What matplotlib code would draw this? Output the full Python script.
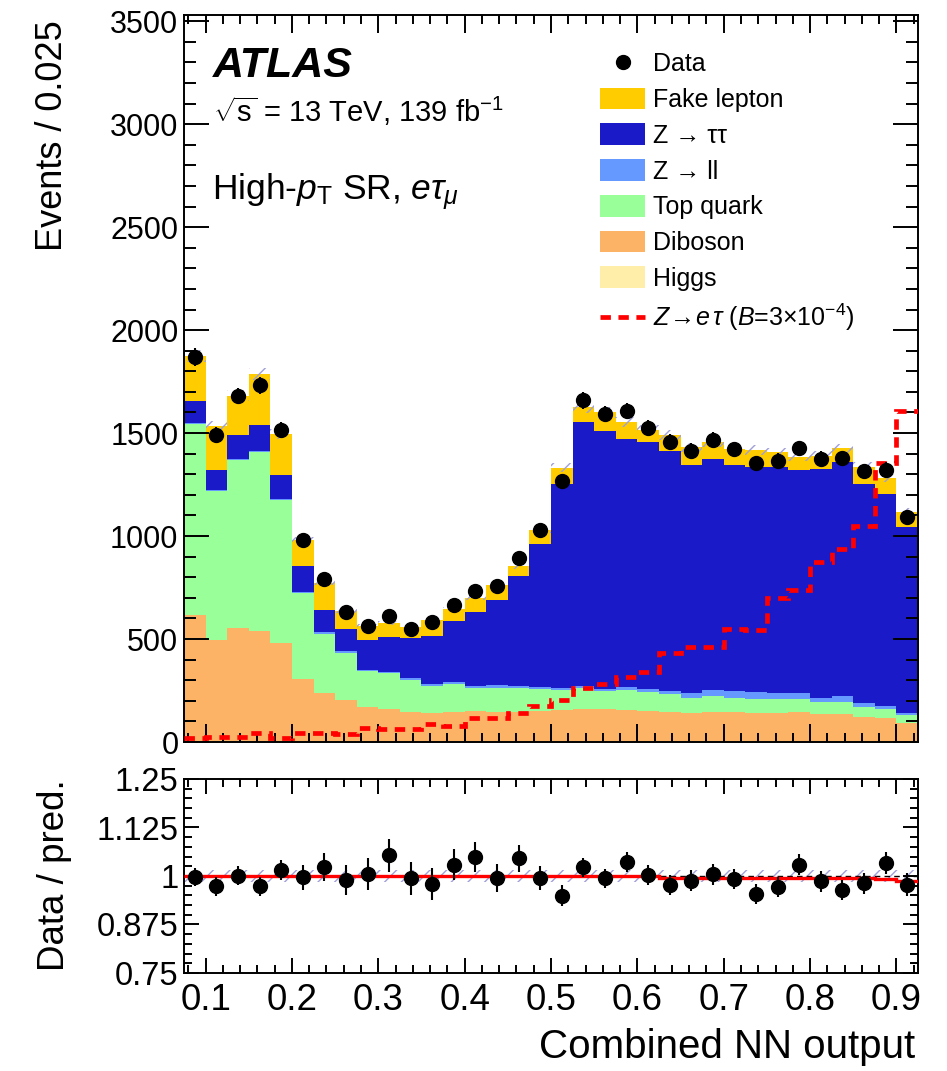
import numpy as np
import matplotlib
matplotlib.use("Agg")
import matplotlib.pyplot as plt
from matplotlib.patches import Patch
from matplotlib.lines import Line2D
from matplotlib.ticker import MultipleLocator, FixedLocator, FixedFormatter

plt.rcParams['font.family'] = ['Liberation Sans', 'DejaVu Sans']
plt.rcParams['mathtext.fontset'] = 'custom'
plt.rcParams['mathtext.rm'] = 'Liberation Sans'
plt.rcParams['mathtext.it'] = 'Liberation Sans:italic'
plt.rcParams['mathtext.bf'] = 'Liberation Sans:bold'
plt.rcParams['hatch.linewidth'] = 1.0

# bins of 0.025 in the NN output
edges = np.round(np.arange(0.075, 0.9251, 0.025), 3)
centers = 0.5 * (edges[1:] + edges[:-1])

# events per bin, bottom to top of the stack
higgs = [6, 6, 6, 6, 6, 6, 6, 6, 6, 6, 6, 6, 6, 6, 6, 6, 6,
         6, 6, 6, 6, 6, 6, 6, 6, 6, 6, 6, 6, 6, 6, 6, 6, 6]
diboson = [609, 491, 548, 532, 475, 299, 233, 197, 162, 154, 141, 136, 141, 146, 141, 141, 144,
           149, 152, 152, 149, 146, 141, 136, 141, 138, 136, 133, 141, 128, 128, 117, 109, 88]
top_quark = [929, 721, 815, 869, 695, 419, 287, 230, 178, 173, 153, 129, 134, 108, 116, 113, 105,
             97, 102, 89, 97, 92, 84, 74, 77, 72, 66, 69, 64, 61, 58, 48, 43, 37]
z_ll = [6, 7, 6, 5, 4, 6, 6, 7, 6, 9, 10, 10, 9, 10, 13, 11, 10,
        10, 11, 8, 16, 11, 18, 23, 28, 31, 36, 31, 28, 17, 31, 16, 16, 8]
z_tautau = [107, 96, 117, 127, 115, 126, 111, 111, 145, 168, 195, 233, 296, 361, 415, 535, 697,
            991, 1281, 1257, 1203, 1200, 1166, 1108, 1122, 1098, 1090, 1095, 1082, 1114, 1135, 1066, 1031, 904]
fake = [218, 215, 189, 247, 200, 126, 131, 84, 65, 68, 51, 80, 59, 69, 69, 48, 68,
        78, 73, 88, 81, 61, 76, 83, 84, 78, 84, 73, 65, 65, 68, 84, 76, 73]

data = [1870, 1492, 1680, 1733, 1516, 982, 793, 631, 564, 612, 551, 581, 664, 733, 756, 893, 1027,
        1265, 1660, 1592, 1608, 1525, 1458, 1415, 1468, 1421, 1353, 1366, 1426, 1376, 1378, 1315, 1323, 1092]

signal = [18, 24, 26, 42, 18, 45, 45, 39, 66, 61, 63, 87, 78, 115, 118, 139, 174,
          203, 263, 284, 317, 338, 433, 462, 459, 551, 546, 699, 736, 874, 938, 1051, 1355, 1605]

ratio = [0.998, 0.973, 1.001, 0.973, 1.016, 0.997, 1.024, 0.990, 1.005, 1.054, 0.994, 0.980,
         1.029, 1.048, 0.994, 1.046, 0.994, 0.949, 1.022, 0.994, 1.037, 1.003, 0.977, 0.988,
         1.004, 0.992, 0.954, 0.971, 1.029, 0.986, 0.964, 0.981, 1.033, 0.977]
ratio_line = [1.0, 1.0, 1.0, 1.0, 1.0, 1.0, 1.0, 1.0, 1.0, 1.0, 1.0, 1.0, 1.0, 1.0, 1.0, 1.0, 1.0,
              1.0, 1.0, 1.0, 1.0, 1.0, 0.996, 0.996, 0.996, 0.996, 0.996, 0.996, 0.996, 0.996,
              0.996, 0.996, 0.992, 0.988]
rel_unc = 0.016

stack = [higgs, diboson, top_quark, z_ll, z_tautau, fake]
colors = ['#FFEEAA', '#FDB366', '#99FF99', '#6699FF', '#1A1AC8', '#FFCC00']
labels = ['Higgs', 'Diboson', 'Top quark', 'Z → ll', 'Z → ττ', 'Fake lepton']
hatch_col = '#A0A0D8'

W, H = 947, 1071


def fx(px):
    return px / W


def fy(py):
    return 1 - py / H


fig = plt.figure(figsize=(W / 100, H / 100), dpi=100)
ax = fig.add_axes([fx(184), fy(742), (918 - 184) / W, (742 - 15) / H])
rax = fig.add_axes([fx(184), fy(973), (918 - 184) / W, (973 - 779) / H])

# stacked backgrounds
bottom = np.zeros(len(data))
for vals, col in zip(stack, colors):
    topv = bottom + np.array(vals)
    ax.stairs(topv, edges, baseline=bottom, fill=True, color=col, lw=0)
    bottom = topv
total = bottom

ax.stairs(total * (1 + rel_unc), edges, baseline=total * (1 - rel_unc), fill=True,
          facecolor='none', edgecolor=hatch_col, hatch='//', lw=0, zorder=2)
ax.stairs(signal, edges, baseline=None, color='red', lw=3.4, ls=(0, (2.2, 1.6)), zorder=3)
ax.errorbar(centers, data, yerr=np.sqrt(data), fmt='o', color='black', ms=10, lw=1.5,
            capsize=0, zorder=5)

ax.set_xlim(0.075, 0.925)
ax.set_ylim(0, 3530)
ax.yaxis.set_major_locator(MultipleLocator(500))
ax.yaxis.set_minor_locator(MultipleLocator(100))
ax.xaxis.set_major_locator(MultipleLocator(0.1))
ax.xaxis.set_minor_locator(MultipleLocator(0.02))
ax.tick_params(which='both', direction='in', top=True, right=True, labelbottom=False, width=1.4)
ax.tick_params(axis='y', which='major', length=18, labelsize=22, pad=4)
ax.tick_params(axis='y', which='minor', length=8.6)
ax.tick_params(axis='x', which='major', length=13)
ax.tick_params(axis='x', which='minor', length=6.5)
for s in ax.spines.values():
    s.set_linewidth(1.4)

# ratio panel
rax.stairs(np.ones(len(data)) * (1 + rel_unc), edges, baseline=np.ones(len(data)) * (1 - rel_unc),
           fill=True, facecolor='none', edgecolor=hatch_col, hatch='//', lw=0)
rax.axhline(1.0, color='black', lw=1.0, ls=(0, (4, 3)))
rax.stairs(ratio_line, edges, baseline=None, color='red', lw=2.4, zorder=3)
ratio_arr = np.array(ratio)
rax.errorbar(centers, ratio_arr, yerr=ratio_arr / np.sqrt(data), fmt='o', color='black', ms=10,
             lw=1.5, capsize=0, zorder=5)
rax.set_xlim(0.075, 0.925)
rax.set_ylim(0.75, 1.25)
rax.yaxis.set_major_locator(FixedLocator([0.75, 0.875, 1.0, 1.125, 1.25]))
rax.yaxis.set_major_formatter(FixedFormatter(['0.75', '0.875', '1', '1.125', '1.25']))
rax.yaxis.set_minor_locator(MultipleLocator(0.025))
rax.xaxis.set_major_locator(MultipleLocator(0.1))
rax.xaxis.set_minor_locator(MultipleLocator(0.02))
rax.xaxis.set_major_formatter(matplotlib.ticker.FormatStrFormatter('%.1f'))
rax.tick_params(which='both', direction='in', top=True, right=True, width=1.4)
rax.tick_params(axis='y', which='major', length=11, labelsize=23.5, pad=4)
rax.tick_params(axis='y', which='minor', length=5.5)
rax.tick_params(axis='x', which='major', length=10.5, labelsize=26.5, pad=7)
rax.tick_params(axis='x', which='minor', length=5.5)
for s in rax.spines.values():
    s.set_linewidth(1.4)

# axis titles
fig.text(fx(53), fy(20), 'Events / 0.025', rotation=90, ha='center', va='top', fontsize=26)
fig.text(fx(55), fy(875), 'Data / pred.', rotation=90, ha='center', va='center', fontsize=26.5)
fig.text(fx(915), fy(1058), 'Combined NN output', ha='right', va='baseline', fontsize=29)

# labels
fig.text(fx(213), fy(77), 'ATLAS', fontsize=31, weight='bold', style='italic', va='baseline')
fig.text(fx(213), fy(122), r'$\sqrt{\mathrm{s}}$ = 13 TeV, 139 fb$^{\mathrm{-1}}$', fontsize=21,
         va='baseline')
fig.text(fx(212), fy(199), r'High-$p_{\mathrm{T}}$ SR, $e\tau_{\mu}$', fontsize=25.5, va='baseline')

# legend
handles = [Line2D([], [], marker='o', color='black', ls='none', ms=10)]
for lab, col in zip(labels[::-1], colors[::-1]):
    handles.append(Patch(facecolor=col, edgecolor='none', label=lab))
handles.append(Line2D([], [], color='red', lw=3.4, ls=(0, (2.2, 1.6))))
leg_labels = ['Data'] + labels[::-1] + [r'$Z\!\rightarrow\! e\,\tau$ ($B$=3$\times$10$^{\mathrm{-4}}$)']
fig.legend(handles, leg_labels, loc='upper left', bbox_to_anchor=(fx(600), fy(52)),
           frameon=False, fontsize=18, borderpad=0, borderaxespad=0, handlelength=1.8,
           handleheight=0.96, handletextpad=0.32, labelspacing=0.45)

fig.savefig('out.png', dpi=100)
